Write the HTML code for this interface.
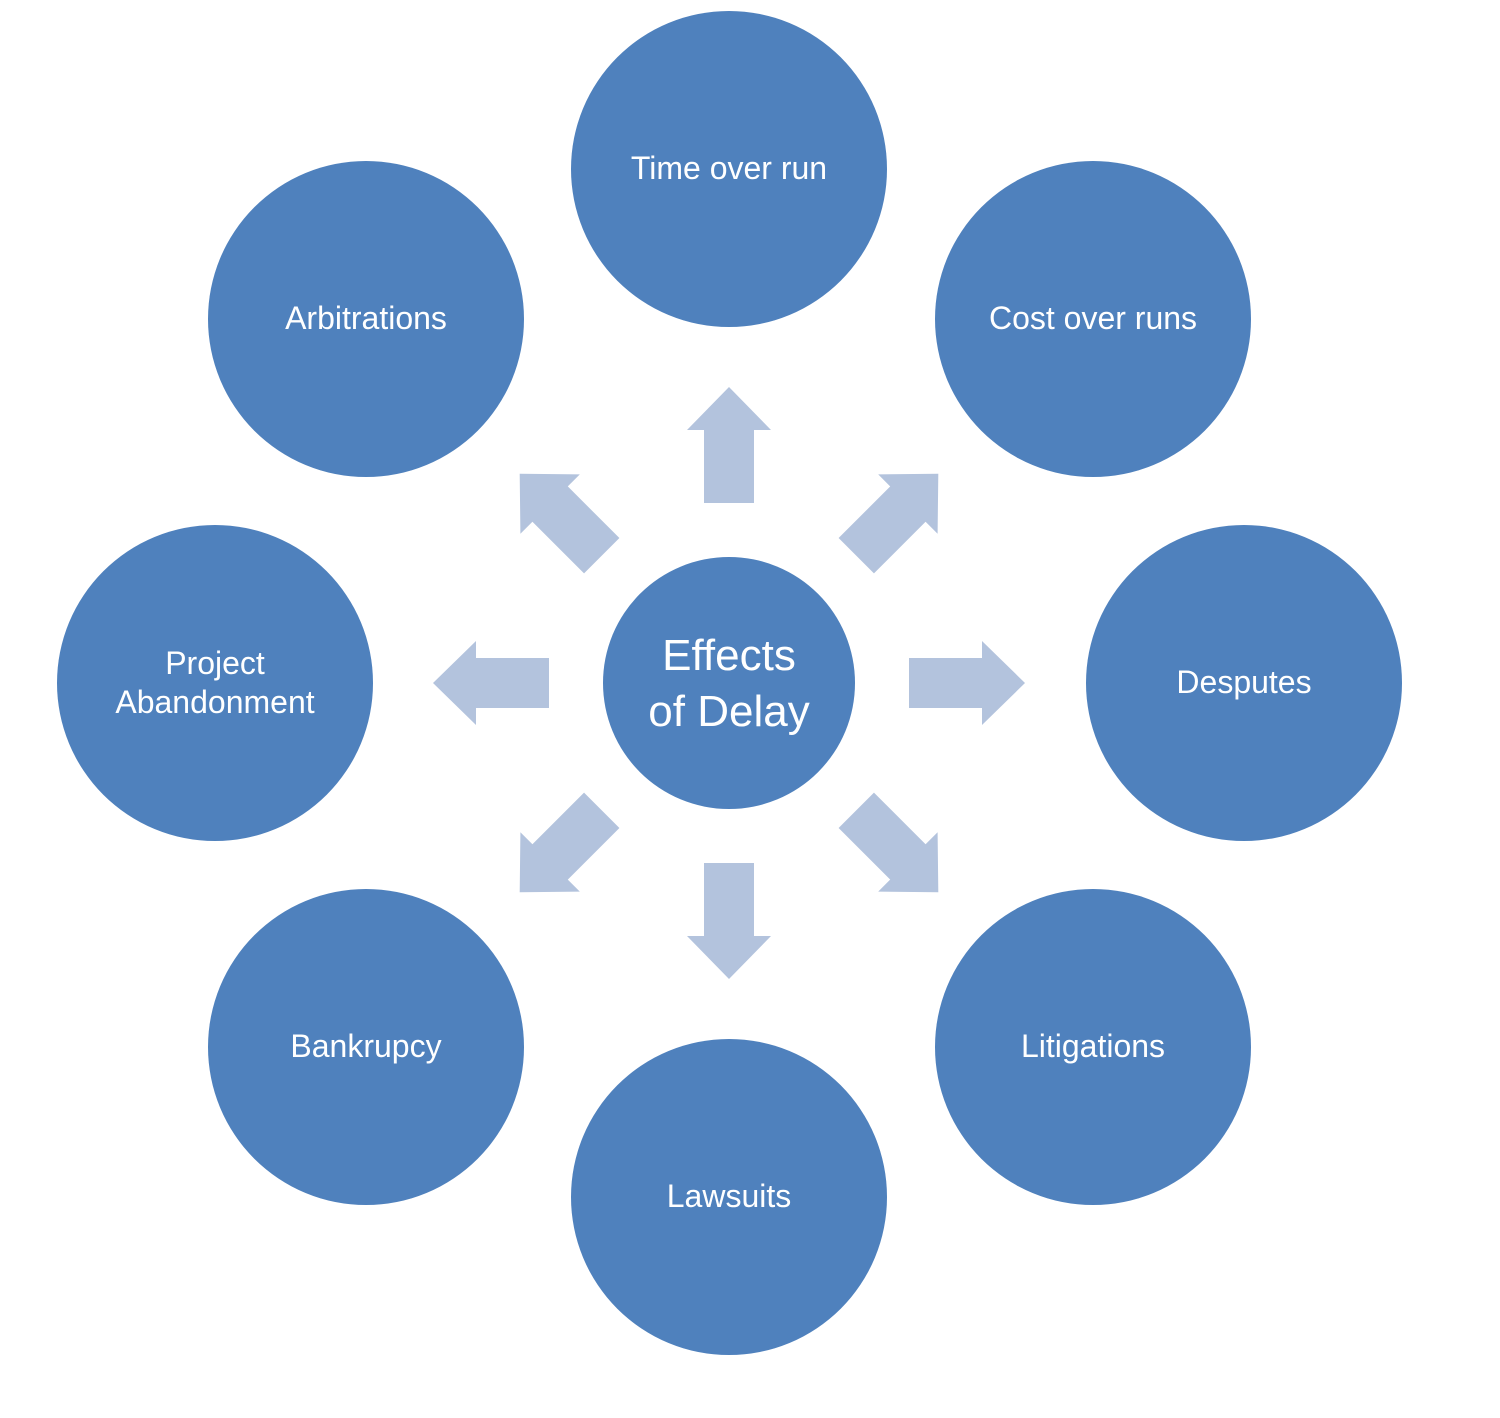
<!DOCTYPE html>
<html><head><meta charset="utf-8"><style>
html,body{margin:0;padding:0;background:#fff;}
svg{display:block;}
text{font-family:"Liberation Sans",sans-serif;fill:#fff;text-anchor:middle;}
</style></head><body>
<svg width="1500" height="1418" viewBox="0 0 1500 1418" xmlns="http://www.w3.org/2000/svg">
<defs>
<polygon id="arr" points="-25,-180 25,-180 25,-253 42,-253 0,-296 -42,-253 -25,-253" fill="#B3C3DD"/>
</defs>
<g transform="translate(729,683)">
<use href="#arr"/>
<use href="#arr" transform="rotate(45)"/>
<use href="#arr" transform="rotate(90)"/>
<use href="#arr" transform="rotate(135)"/>
<use href="#arr" transform="rotate(180)"/>
<use href="#arr" transform="rotate(225)"/>
<use href="#arr" transform="rotate(270)"/>
<use href="#arr" transform="rotate(315)"/>
</g>
<g fill="#4F81BD">
<circle cx="729" cy="169" r="158"/>
<circle cx="1093" cy="319" r="158"/>
<circle cx="366" cy="319" r="158"/>
<circle cx="215" cy="683" r="158"/>
<circle cx="1244" cy="683" r="158"/>
<circle cx="366" cy="1047" r="158"/>
<circle cx="1093" cy="1047" r="158"/>
<circle cx="729" cy="1197" r="158"/>
<circle cx="729" cy="683" r="126"/>
</g>
<g font-size="32">
<text x="729" y="179">Time over run</text>
<text x="1093" y="329">Cost over runs</text>
<text x="366" y="329">Arbitrations</text>
<text x="215" y="674">Project</text>
<text x="215" y="713">Abandonment</text>
<text x="1244" y="693">Desputes</text>
<text x="366" y="1057">Bankrupcy</text>
<text x="1093" y="1057">Litigations</text>
<text x="729" y="1207">Lawsuits</text>
</g>
<g font-size="44">
<text x="729" y="670">Effects</text>
<text x="729" y="726">of Delay</text>
</g>
</svg>
</body></html>
